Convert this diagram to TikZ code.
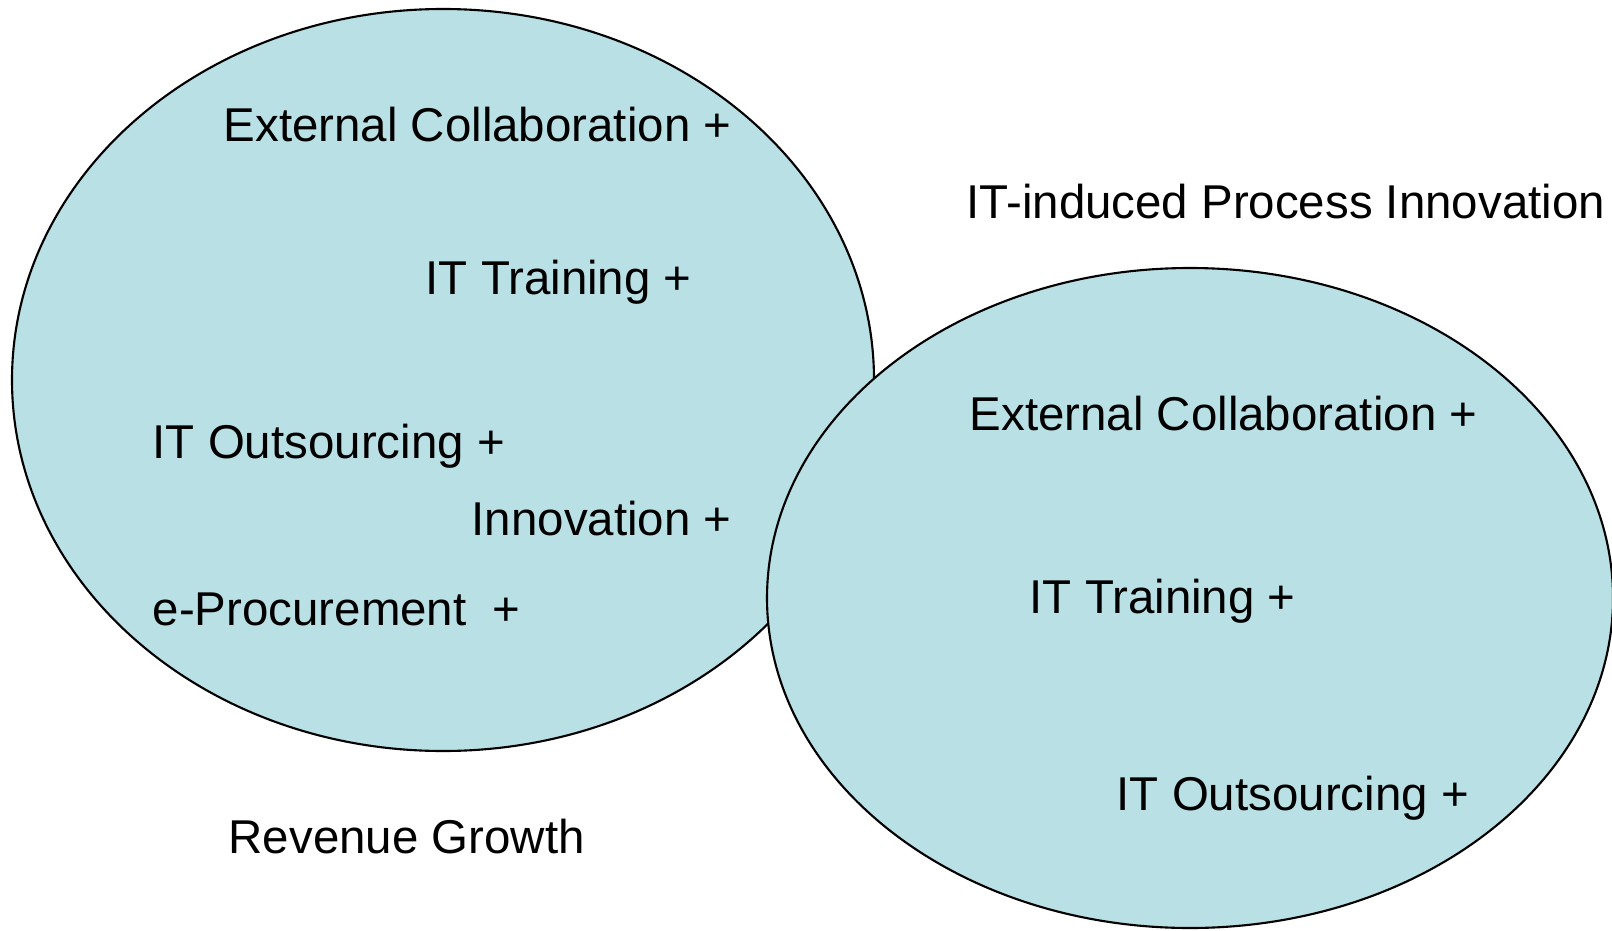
\documentclass[tikz,border=0pt]{standalone}
\usepackage{fontspec}
\setmainfont{Liberation Sans}
\usepackage{xcolor}
\definecolor{regionblue}{RGB}{185,224,228}

\begin{document}
\begin{tikzpicture}[
    region/.style={draw=black, fill=regionblue, line width=0.6pt},
    lbl/.style={anchor=base west, inner sep=0pt, font=\fontsize{13.5}{16}\selectfont}
]
    \useasboundingbox (0,0) rectangle (16.12,-9.30);

    % Revenue Growth region
    \draw[region] (4.43,-3.80) ellipse [x radius=4.31, y radius=3.71];
    \node[lbl] (rgcollab) at (2.23,-1.42) {External Collaboration +};
    \node[lbl] (rgtrain) at (4.25,-2.94) {IT Training +};
    \node[lbl] (rgsource) at (1.52,-4.58) {IT Outsourcing +};
    \node[lbl] (rginnov) at (4.71,-5.35) {Innovation +};
    \node[lbl] (rgproc) at (1.52,-6.25) {e-Procurement\ \ +};
    \node[lbl] (rgtitle) at (2.28,-8.53) {Revenue Growth};

    % IT-induced Process Innovation region
    \draw[region] (11.90,-5.98) ellipse [x radius=4.23, y radius=3.30];
    \node[lbl] (pititle) at (9.66,-2.19) {IT-induced Process Innovation};
    \node[lbl] (picollab) at (9.69,-4.30) {External Collaboration +};
    \node[lbl] (pitrain) at (10.29,-6.13) {IT Training +};
    \node[lbl] (pisource) at (11.16,-8.10) {IT Outsourcing +};

\end{tikzpicture}
\end{document}
